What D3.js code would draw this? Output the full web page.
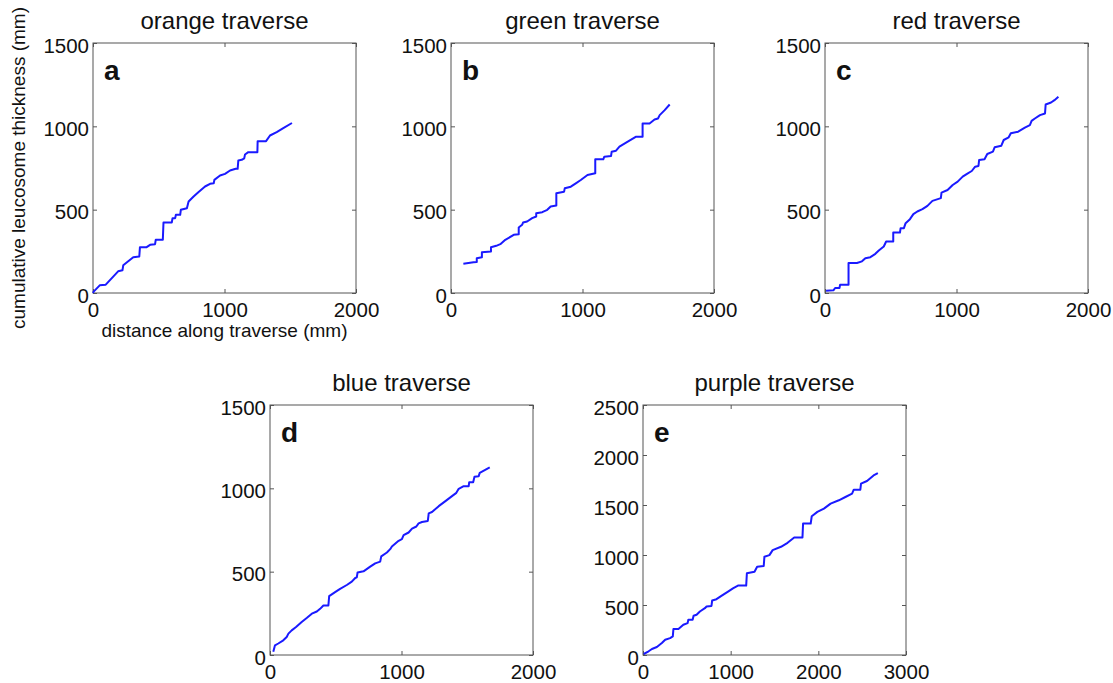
<!DOCTYPE html>
<html lang="en">
  <head>
    <meta charset="utf-8">
    <title>Cumulative leucosome thickness</title>
    <script src="https://cdn.jsdelivr.net/npm/d3@7"></script>
    <style>
      body { margin: 0; background: #fff; }
      svg text { font-family: "Liberation Sans", Arial, sans-serif; fill: #111; }
    </style>
  </head>
  <body>
    <div id="chart"></div>

    <script type="text/javascript">
      // distance along traverse (mm) / cumulative leucosome thickness (mm)
      let orangeDist = [0, 5, 51, 97, 191, 224, 230, 268, 306, 352, 357, 408, 434, 472, 477, 531, 536, 599, 605, 625, 630, 663, 668, 714, 727, 765, 801, 852, 890, 918, 923, 966, 1004, 1042, 1085, 1100, 1105, 1131, 1150, 1156, 1181, 1250, 1252, 1316, 1346, 1397, 1447, 1513];
      let orangeCum  = [0, 8, 46, 50, 130, 136, 166, 190, 215, 219, 275, 275, 289, 293, 319, 319, 423, 423, 449, 449, 469, 469, 499, 509, 549, 579, 605, 639, 655, 658, 679, 705, 715, 735, 745, 745, 795, 799, 808, 831, 845, 845, 911, 911, 945, 965, 989, 1020];

      let greenDist = [94, 171, 196, 196, 235, 235, 304, 304, 344, 375, 413, 477, 515, 515, 541, 548, 579, 617, 648, 648, 694, 732, 758, 801, 801, 860, 865, 911, 949, 987, 1038, 1097, 1097, 1158, 1166, 1217, 1222, 1255, 1281, 1344, 1408, 1457, 1457, 1510, 1548, 1574, 1587, 1625, 1663];
      let greenCum  = [176, 184, 186, 209, 215, 245, 249, 275, 283, 293, 319, 349, 353, 393, 409, 423, 429, 449, 459, 479, 485, 499, 519, 525, 599, 608, 628, 638, 658, 678, 708, 718, 802, 802, 818, 822, 848, 854, 878, 908, 938, 938, 1017, 1017, 1041, 1047, 1067, 1097, 1131];

      let redDist = [8, 64, 77, 110, 115, 179, 179, 243, 281, 307, 345, 383, 409, 447, 465, 519, 519, 570, 575, 600, 613, 646, 672, 702, 741, 779, 817, 881, 886, 932, 971, 1009, 1047, 1086, 1116, 1142, 1167, 1172, 1213, 1234, 1277, 1290, 1341, 1359, 1397, 1413, 1469, 1520, 1558, 1571, 1596, 1635, 1673, 1678, 1719, 1745, 1775];
      let redCum  = [14, 16, 30, 30, 50, 50, 180, 180, 190, 209, 215, 235, 255, 279, 309, 309, 363, 363, 389, 389, 419, 443, 473, 489, 503, 523, 553, 569, 602, 618, 648, 668, 698, 718, 732, 758, 762, 798, 802, 834, 848, 874, 884, 918, 934, 958, 968, 992, 1007, 1033, 1047, 1067, 1077, 1131, 1143, 1157, 1177];

      let blueDist = [25, 38, 63, 101, 127, 140, 165, 198, 241, 279, 318, 356, 381, 406, 444, 450, 495, 533, 584, 622, 648, 660, 666, 711, 762, 800, 838, 846, 889, 914, 927, 978, 1003, 1016, 1054, 1080, 1113, 1130, 1156, 1200, 1207, 1232, 1283, 1334, 1384, 1417, 1435, 1473, 1511, 1515, 1545, 1555, 1587, 1595, 1671];
      let blueCum  = [19, 58, 69, 88, 108, 128, 148, 168, 198, 222, 248, 261, 277, 297, 297, 353, 377, 397, 420, 440, 462, 466, 495, 502, 530, 550, 560, 592, 615, 635, 651, 685, 695, 719, 735, 758, 771, 790, 798, 804, 850, 858, 893, 923, 953, 973, 997, 1013, 1013, 1037, 1037, 1069, 1073, 1093, 1126];

      let purpleDist = [8, 64, 102, 158, 215, 253, 309, 340, 347, 404, 460, 509, 517, 566, 577, 611, 649, 706, 725, 781, 789, 838, 894, 970, 1026, 1083, 1177, 1185, 1272, 1302, 1377, 1385, 1442, 1479, 1574, 1649, 1725, 1819, 1826, 1913, 1925, 1989, 2064, 2140, 2234, 2309, 2385, 2404, 2479, 2487, 2555, 2630, 2679];
      let purpleCum  = [10, 37, 60, 80, 120, 153, 169, 186, 259, 259, 302, 319, 352, 352, 392, 402, 435, 468, 485, 491, 545, 558, 591, 634, 667, 694, 694, 817, 833, 883, 890, 983, 999, 1049, 1082, 1122, 1175, 1175, 1315, 1315, 1388, 1431, 1464, 1514, 1547, 1580, 1614, 1653, 1653, 1713, 1740, 1796, 1819];

      let letters = ['a', 'b', 'c', 'd', 'e'];
      let titles = ['orange traverse', 'green traverse', 'red traverse', 'blue traverse', 'purple traverse'];
      let xTicks = [[0, 1000, 2000], [0, 1000, 2000], [0, 1000, 2000], [0, 1000, 2000], [0, 1000, 2000, 3000]];
      let yTicks = [[0, 500, 1000, 1500], [0, 500, 1000, 1500], [0, 500, 1000, 1500], [0, 500, 1000, 1500], [0, 500, 1000, 1500, 2000, 2500]];
      let series = [
        [orangeDist, orangeCum],
        [greenDist, greenCum],
        [redDist, redCum],
        [blueDist, blueCum],
        [purpleDist, purpleCum]
      ];

      // panel placement on the page
      let boxes = [
        {left: 93, top: 43}, {left: 451, top: 43}, {left: 825, top: 43},
        {left: 270, top: 405}, {left: 643, top: 405}
      ];
      let pw = 263, ph = 250;

      let svg = d3.select('#chart').append('svg')
        .attr('width', 1113)
        .attr('height', 683)

      letters.forEach((letter, i) => {
        let xt = xTicks[i], yt = yTicks[i];
        let x = d3.scaleLinear().domain([0, xt[xt.length - 1]]).range([0, pw]);
        let y = d3.scaleLinear().domain([0, yt[yt.length - 1]]).range([ph, 0]);

        let g = svg.append('g')
          .attr('transform', 'translate(' + boxes[i].left + ',' + boxes[i].top + ')')

        // ticks point inwards on all four sides, matlab style
        g.append('g').attr('transform', 'translate(0,' + ph + ')')
          .call(d3.axisBottom(x).tickValues(xt).tickFormat(d3.format('d')).tickSizeInner(-4).tickSizeOuter(0).tickPadding(9))
        let left = g.append('g')
          .call(d3.axisLeft(y).tickValues(yt).tickFormat(d3.format('d')).tickSizeInner(-4).tickSizeOuter(0).tickPadding(4))
        g.append('g')
          .call(d3.axisTop(x).tickValues(xt).tickFormat('').tickSizeInner(-4).tickSizeOuter(0))
        g.append('g').attr('transform', 'translate(' + pw + ',0)')
          .call(d3.axisRight(y).tickValues(yt).tickFormat('').tickSizeInner(-4).tickSizeOuter(0))

        g.selectAll('.domain').remove()
        g.selectAll('.tick line').attr('stroke', '#555')
        g.selectAll('.tick text')
          .attr('font-size', 20.5)
          .attr('fill', '#111')
          .attr('font-family', '"Liberation Sans", Arial, sans-serif')
        left.selectAll('.tick text').attr('dy', '0.44em')

        g.append('rect')
          .attr('width', pw)
          .attr('height', ph)
          .attr('fill', 'none')
          .attr('stroke', '#555')
          .attr('stroke-width', 1)

        let pts = series[i][0].map((d, j) => [d, series[i][1][j]]);
        let line = d3.line()
          .x((d) => x(d[0]))
          .y((d) => y(d[1]))

        g.append('path')
          .datum(pts)
          .attr('fill', 'none')
          .attr('stroke', '#1a1aff')
          .attr('stroke-width', 2)
          .attr('stroke-linejoin', 'round')
          .attr('d', line)

        g.append('text')
          .attr('x', 11)
          .attr('y', 37)
          .attr('font-size', 28)
          .attr('font-weight', 'bold')
          .text(letter)

        g.append('text')
          .attr('x', pw / 2)
          .attr('y', -14.5)
          .attr('text-anchor', 'middle')
          .attr('font-size', 24)
          .text(titles[i])
      });

      // axis titles only on the first panel
      svg.append('text')
        .attr('transform', 'translate(25,' + (boxes[0].top + ph / 2) + ') rotate(-90)')
        .attr('text-anchor', 'middle')
        .attr('font-size', 19)
        .text('cumulative leucosome thickness (mm)')

      svg.append('text')
        .attr('x', boxes[0].left + pw / 2)
        .attr('y', 337)
        .attr('text-anchor', 'middle')
        .attr('font-size', 19)
        .text('distance along traverse (mm)')
    </script>
  </body>
</html>
